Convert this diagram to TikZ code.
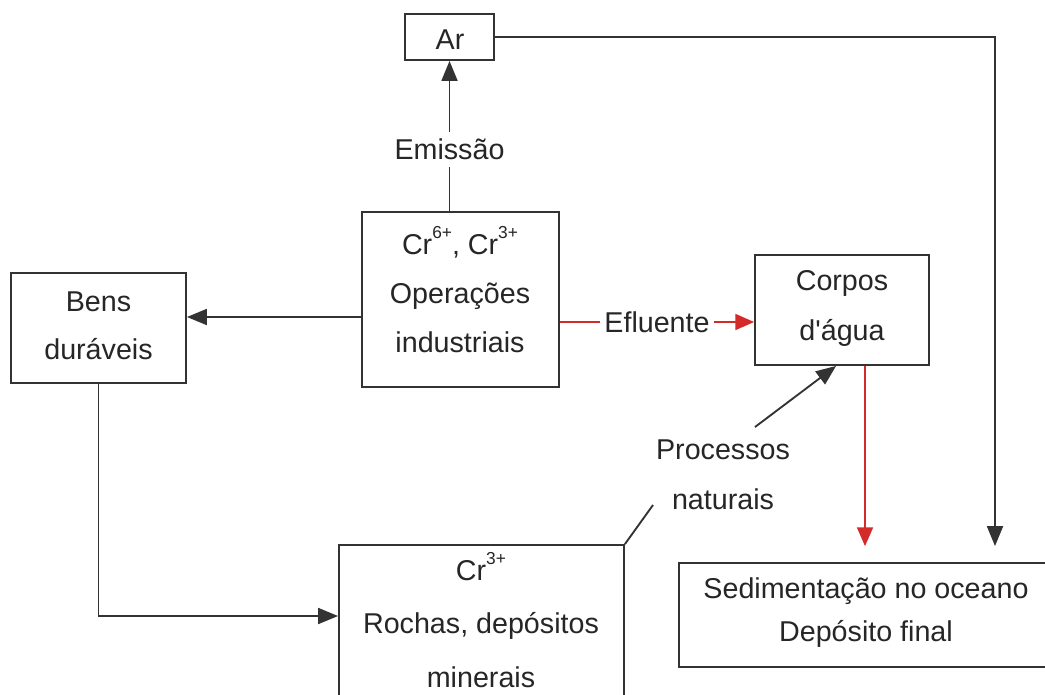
\documentclass[tikz,border=0pt]{standalone}
\usepackage{fontspec}
\setmainfont{Liberation Sans}[Ligatures=TeXOff]
\usetikzlibrary{arrows.meta,fit,calc}
\definecolor{linecol}{HTML}{333333}
\definecolor{textcol}{HTML}{262626}
\definecolor{redcol}{HTML}{D42A2A}
\newcommand{\supr}[1]{\raisebox{0.55em}{\fontsize{13}{13}\selectfont #1}}
\tikzset{
  box/.style={draw=linecol, line width=1.4pt, inner sep=0pt},
  txt/.style={text=textcol, font=\fontsize{21.5}{37}\selectfont, align=center, inner sep=1pt},
  conn/.style={draw=linecol, line width=1.4pt},
  arr/.style={conn, -{Triangle[length=15pt,width=12pt]}},
  redarr/.style={draw=redcol, line width=1.1pt, -{Triangle[length=14pt,width=12pt]}},
}
\begin{document}
\begin{tikzpicture}[x=0.75pt,y=-0.75pt]
\useasboundingbox (0,0) rectangle (1045,694);
\fill[white] (0,0) rectangle (1045,694);

% boxes
\node[box, fit={(405,14) (494,60)}] (ar) {};
\node[txt] (ar-t) at (450,40) {Ar};

\node[box, fit={(362,212) (559,387)}] (ops) {};
\node[txt, font=\fontsize{21.5}{36.8}\selectfont] (ops-t) at (460,290) {Cr\supr{6+}, Cr\supr{3+}\\Operações\\industriais};

\node[box, fit={(11,273) (186,383)}] (bens) {};
\node[txt, font=\fontsize{21.5}{36}\selectfont] (bens-t) at (98.5,326) {Bens\\duráveis};

\node[box, fit={(755,255) (929,365)}] (corpos) {};
\node[txt, font=\fontsize{21.5}{37.5}\selectfont] (corpos-t) at (842,308) {Corpos\\d'água};

\node[box, fit={(679,563) (1050,667)}] (sed) {};
\node[txt, font=\fontsize{21.5}{32.3}\selectfont] (sed-t) at (866,613) {Sedimentação no oceano\\Depósito final};

\node[box, fit={(339,545) (624,705)}] (rochas) {};
\node[txt, font=\fontsize{21.5}{40}\selectfont] (rochas-t) at (481,620) {Cr\supr{3+}\\Rochas, depósitos\\minerais};

\node[txt, font=\fontsize{21.5}{37.5}\selectfont] (proc) at (723,475) {Processos\\naturais};

% connectors
\draw[arr] (ops.north -| ar.south) -- node[txt, pos=0.41, fill=white, inner ysep=5pt] (emi) {Emissão} (ar.south);

\draw[arr] (ops.west |- 0,317) -- (bens.east |- 0,317);

\draw[redarr] (ops.east |- 0,322) -- node[txt, pos=0.5, fill=white, inner xsep=3pt, text=textcol] (efl) {Efluente} (corpos.west |- 0,322);

\draw[arr] (bens.south) |- (rochas.west |- 0,616);

\draw[arr, shorten >=12pt] (ar.east) -| (sed.north -| 995,0);

\draw[redarr, shorten >=12pt] (corpos.south -| 865,0) -- (sed.north -| 865,0);

\coordinate (p1) at (653,505);
\coordinate (p2) at (755,427);
\draw[conn] (rochas.north east) -- (p1);
\draw[arr] (p2) -- ($(corpos.south west)+(82,0)$);
\end{tikzpicture}
\end{document}
